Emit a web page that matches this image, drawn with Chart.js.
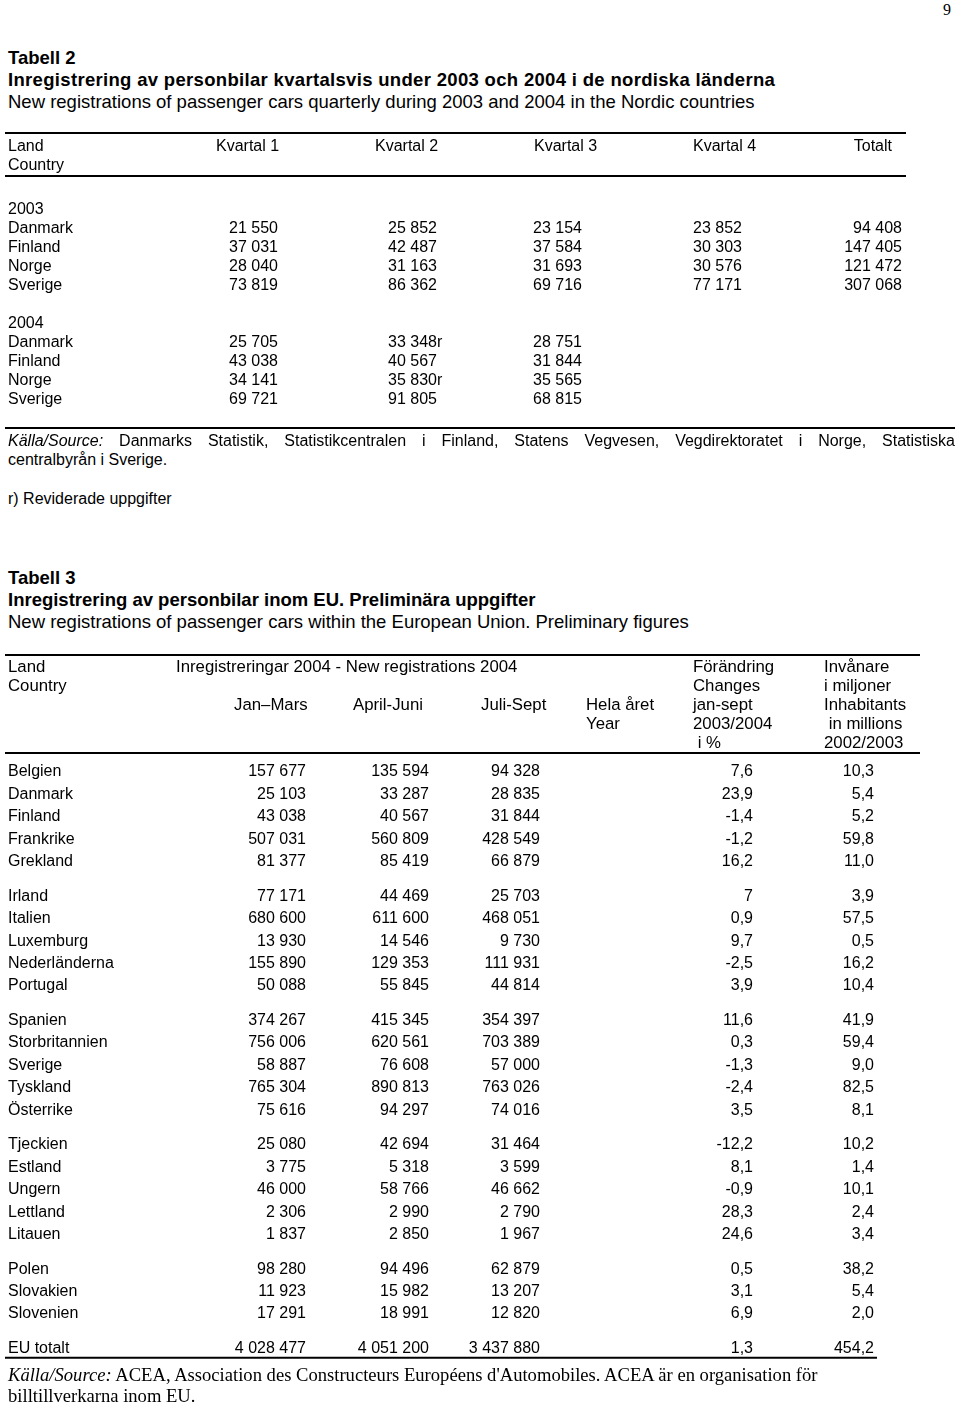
<!DOCTYPE html>
<html>
<head>
<meta charset="utf-8">
<script src="https://cdn.jsdelivr.net/npm/chart.js@4.4.0/dist/chart.umd.min.js"></script>
<style>
  body { margin: 0; background: #fff; color: #000; font-family: "Liberation Sans", Arial, sans-serif; }
  #page { position: relative; width: 960px; height: 1404px; overflow: hidden; }
  .abs { position: absolute; left: 8px; white-space: nowrap; }
  .title { font-size: 18.5px; line-height: 22px; }
  .title b { font-weight: bold; }
  .note { font-size: 16px; line-height: 19px; }
  .just { width: 947px; text-align: justify; text-align-last: justify; white-space: normal; }
  .serif { font-family: "Liberation Serif", "Times New Roman", serif; }
  canvas { position: absolute; left: 0; }
</style>
</head>
<body>
<div id="page">
  <div class="abs serif" style="left:943px;top:1px;font-size:16px;">9</div>

  <div class="abs title" style="top:47px;">
    <b>Tabell 2</b><br>
    <b style="letter-spacing:0.32px;">Inregistrering av personbilar kvartalsvis under 2003 och 2004 i de nordiska länderna</b><br>
    New registrations of passenger cars quarterly during 2003 and 2004 in the Nordic countries
  </div>

  <canvas id="nordic" width="960" height="315" style="top:120px;"></canvas>

  <div class="abs note just" style="top:431px;"><i>Källa/Source:</i> Danmarks Statistik, Statistikcentralen i Finland, Statens Vegvesen, Vegdirektoratet i Norge, Statistiska</div>
  <div class="abs note" style="top:450px;">centralbyrån i Sverige.</div>
  <div class="abs note" style="top:489px;">r) Reviderade uppgifter</div>

  <div class="abs title" style="top:567px;">
    <b>Tabell 3</b><br>
    <b>Inregistrering av personbilar inom EU. Preliminära uppgifter</b><br>
    New registrations of passenger cars within the European Union. Preliminary figures
  </div>

  <canvas id="eu" width="960" height="720" style="top:645px;"></canvas>

  <div class="abs serif" style="top:1364px;font-size:18.6px;line-height:21px;">
    <i>Källa/Source:</i> ACEA, Association des Constructeurs Européens d'Automobiles. ACEA är en organisation för<br>
    billtillverkarna inom EU.
  </div>
</div>

<script>
// Tabell 2 - nordiska länderna
const nordicCountries = ['Danmark', 'Finland', 'Norge', 'Sverige'];
const nordicHeaders = ['Kvartal 1', 'Kvartal 2', 'Kvartal 3', 'Kvartal 4'];
const nordic2003Q1 = [21550, 37031, 28040, 73819];
const nordic2003Q2 = [25852, 42487, 31163, 86362];
const nordic2003Q3 = [23154, 37584, 31693, 69716];
const nordic2003Q4 = [23852, 30303, 30576, 77171];
const nordic2003Total = [94408, 147405, 121472, 307068];
const nordic2004Q1 = [25705, 43038, 34141, 69721];
const nordic2004Q2 = [33348, 40567, 35830, 91805];
const nordic2004Q2Revised = [true, false, true, false];
const nordic2004Q3 = [28751, 31844, 35565, 68815];

// Tabell 3 - EU
const euGroups = [
  ['Belgien', 'Danmark', 'Finland', 'Frankrike', 'Grekland'],
  ['Irland', 'Italien', 'Luxemburg', 'Nederländerna', 'Portugal'],
  ['Spanien', 'Storbritannien', 'Sverige', 'Tyskland', 'Österrike'],
  ['Tjeckien', 'Estland', 'Ungern', 'Lettland', 'Litauen'],
  ['Polen', 'Slovakien', 'Slovenien'],
  ['EU totalt']
];
const euJanMars = [157677, 25103, 43038, 507031, 81377, 77171, 680600, 13930, 155890, 50088,
  374267, 756006, 58887, 765304, 75616, 25080, 3775, 46000, 2306, 1837, 98280, 11923, 17291, 4028477];
const euAprilJuni = [135594, 33287, 40567, 560809, 85419, 44469, 611600, 14546, 129353, 55845,
  415345, 620561, 76608, 890813, 94297, 42694, 5318, 58766, 2990, 2850, 94496, 15982, 18991, 4051200];
const euJuliSept = [94328, 28835, 31844, 428549, 66879, 25703, 468051, 9730, 111931, 44814,
  354397, 703389, 57000, 763026, 74016, 31464, 3599, 46662, 2790, 1967, 62879, 13207, 12820, 3437880];
const euChangePct = [7.6, 23.9, -1.4, -1.2, 16.2, 7, 0.9, 9.7, -2.5, 3.9,
  11.6, 0.3, -1.3, -2.4, 3.5, -12.2, 8.1, -0.9, 28.3, 24.6, 0.5, 3.1, 6.9, 1.3];
const euInhabitants = [10.3, 5.4, 5.2, 59.8, 11.0, 3.9, 57.5, 0.5, 16.2, 10.4,
  41.9, 59.4, 9.0, 82.5, 8.1, 10.2, 1.4, 10.1, 2.4, 3.4, 38.2, 5.4, 2.0, 454.2];

const FONT = '16px "Liberation Sans", Arial, sans-serif';
const TEXT_DY = 2; // nudge so canvas text sits like the printed rows

function fmtInt(v) {
  return String(v).replace(/\B(?=(\d{3})+(?!\d))/g, ' ');
}
function fmtDec(v, fixed) {
  return (fixed ? v.toFixed(1) : String(v)).replace('.', ',');
}

function tableOptions(yMin, yMax) {
  return {
    responsive: false,
    animation: false,
    devicePixelRatio: 1,
    layout: { padding: 0 },
    plugins: { legend: { display: false }, tooltip: { enabled: false } },
    scales: {
      x: { type: 'linear', display: false, min: 0, max: 960 },
      y: { type: 'linear', display: false, reverse: true, min: yMin, max: yMax }
    }
  };
}

function text(ctx, s, x, y, align) {
  ctx.textAlign = align || 'left';
  ctx.fillText(s, x, y + TEXT_DY);
}
function rule(ctx, x1, x2, y) {
  ctx.beginPath();
  ctx.moveTo(x1, y);
  ctx.lineTo(x2, y);
  ctx.stroke();
}

// ---- Tabell 2 ----
const NORDIC_ROW = 19;
const NORDIC_FIRST = 88; // px from canvas top to "2003"
const nordicTable = {
  id: 'nordicTable',
  afterDraw(chart) {
    const { ctx, chartArea, scales: { x, y } } = chart;
    const top = chartArea.top;
    ctx.save();
    ctx.fillStyle = '#000';
    ctx.strokeStyle = '#000';
    ctx.lineWidth = 2;
    ctx.font = FONT;
    ctx.textBaseline = 'middle';

    rule(ctx, x.getPixelForValue(5), x.getPixelForValue(906), top + 13);
    rule(ctx, x.getPixelForValue(5), x.getPixelForValue(906), top + 56);
    rule(ctx, x.getPixelForValue(5), x.getPixelForValue(955), top + 308);

    text(ctx, 'Land', x.getPixelForValue(8), top + 25);
    text(ctx, 'Country', x.getPixelForValue(8), top + 44);
    const headX = [216, 375, 534, 693];
    nordicHeaders.forEach((h, i) => text(ctx, h, x.getPixelForValue(headX[i]), top + 25));
    text(ctx, 'Totalt', x.getPixelForValue(892), top + 25, 'right');

    const colX = [229, 388, 533, 693];
    const blocks = [
      { year: '2003', row: 0, cols: [nordic2003Q1, nordic2003Q2, nordic2003Q3, nordic2003Q4], total: nordic2003Total },
      { year: '2004', row: 6, cols: [nordic2004Q1, nordic2004Q2, nordic2004Q3], total: null }
    ];
    blocks.forEach(b => {
      text(ctx, b.year, x.getPixelForValue(8), y.getPixelForValue(b.row));
      nordicCountries.forEach((c, i) => {
        const py = y.getPixelForValue(b.row + 1 + i);
        text(ctx, c, x.getPixelForValue(8), py);
        b.cols.forEach((col, j) => {
          let s = fmtInt(col[i]);
          if (b.year === '2004' && j === 1 && nordic2004Q2Revised[i]) s += 'r';
          text(ctx, s, x.getPixelForValue(colX[j]), py);
        });
        if (b.total) text(ctx, fmtInt(b.total[i]), x.getPixelForValue(902), py, 'right');
      });
    });
    ctx.restore();
  }
};

new Chart(document.getElementById('nordic'), {
  type: 'scatter',
  data: { datasets: [{ data: [] }] },
  options: tableOptions(-NORDIC_FIRST / NORDIC_ROW, (315 - NORDIC_FIRST) / NORDIC_ROW),
  plugins: [nordicTable]
});

// ---- Tabell 3 ----
const EU_ROW = 22.4;
const EU_GAP = 0.55;     // extra space between groups, in rows
const EU_FIRST = 125;    // px from canvas top to "Belgien"
const euNames = [];
const euPos = [];
euGroups.forEach((g, gi) => g.forEach(n => {
  euPos.push(euNames.length + gi * EU_GAP);
  euNames.push(n);
}));

const euHeader = [
  ['Land', 8, 0], ['Country', 8, 1],
  ['Inregistreringar 2004 - New registrations 2004', 176, 0],
  ['Jan\u2013Mars', 234, 2], ['April-Juni', 353, 2], ['Juli-Sept', 481, 2],
  ['Hela året', 586, 2], ['Year', 586, 3],
  ['Förändring', 693, 0], ['Changes', 693, 1], ['jan-sept', 693, 2], ['2003/2004', 693, 3], [' i %', 693, 4],
  ['Invånare', 824, 0], ['i miljoner', 824, 1], ['Inhabitants', 824, 2], [' in millions', 824, 3], ['2002/2003', 824, 4]
];

const euTable = {
  id: 'euTable',
  afterDraw(chart) {
    const { ctx, chartArea, scales: { x, y } } = chart;
    const top = chartArea.top;
    ctx.save();
    ctx.fillStyle = '#000';
    ctx.strokeStyle = '#000';
    ctx.lineWidth = 2;
    ctx.textBaseline = 'middle';

    rule(ctx, x.getPixelForValue(5), x.getPixelForValue(920), top + 10);
    rule(ctx, x.getPixelForValue(5), x.getPixelForValue(920), top + 108);

    ctx.font = '16.8px "Liberation Sans", Arial, sans-serif';
    euHeader.forEach(([s, hx, line]) => text(ctx, s, x.getPixelForValue(hx), top + 20 + line * 19));

    ctx.font = FONT;
    euNames.forEach((n, i) => {
      const py = y.getPixelForValue(euPos[i]);
      text(ctx, n, x.getPixelForValue(8), py);
      text(ctx, fmtInt(euJanMars[i]), x.getPixelForValue(306), py, 'right');
      text(ctx, fmtInt(euAprilJuni[i]), x.getPixelForValue(429), py, 'right');
      text(ctx, fmtInt(euJuliSept[i]), x.getPixelForValue(540), py, 'right');
      text(ctx, fmtDec(euChangePct[i], false), x.getPixelForValue(753), py, 'right');
      text(ctx, fmtDec(euInhabitants[i], true), x.getPixelForValue(874), py, 'right');
    });
    const last = y.getPixelForValue(euPos[euPos.length - 1]);
    rule(ctx, x.getPixelForValue(5), x.getPixelForValue(877), last + 11);
    ctx.restore();
  }
};

new Chart(document.getElementById('eu'), {
  type: 'scatter',
  data: { datasets: [{ data: [] }] },
  options: tableOptions(-EU_FIRST / EU_ROW, (720 - EU_FIRST) / EU_ROW),
  plugins: [euTable]
});
</script>
</body>
</html>
